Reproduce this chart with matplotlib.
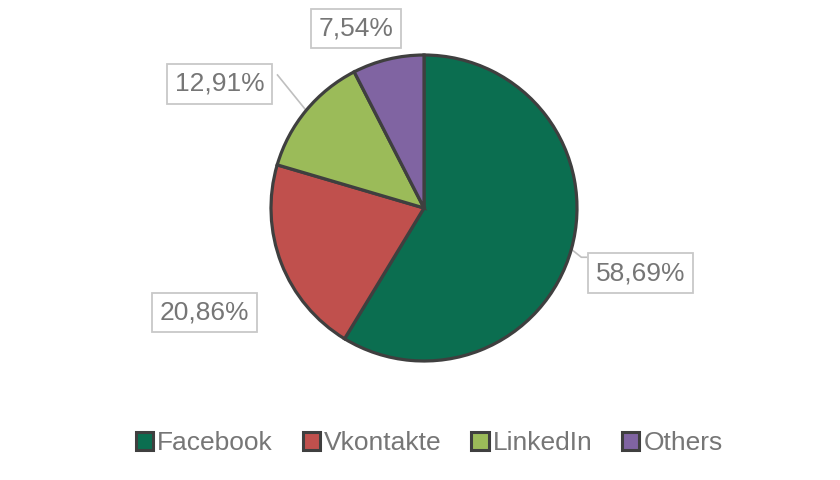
import numpy as np
import matplotlib
matplotlib.use("Agg")
import matplotlib.pyplot as plt
from matplotlib.patches import Patch

# shares by network
names = ['Facebook', 'Vkontakte', 'LinkedIn', 'Others']
shares = [58.69, 20.86, 12.91, 7.54]
labels = ['58,69%', '20,86%', '12,91%', '7,54%']
colors = ['#0B6E50', '#C0504D', '#9BBB59', '#8064A2']

plt.rcParams['font.family'] = ['Liberation Sans', 'DejaVu Sans']
txt_col = '#767676'
edge_col = '#3F3F3F'

fig = plt.figure(figsize=(8.4, 4.8), dpi=100)
ax = fig.add_axes([0, 0, 1, 1])

cx, cy, r = 424, 272, 153
wedges, _ = ax.pie(shares, colors=colors, startangle=90, counterclock=False,
                   center=(cx, cy), radius=r, frame=True,
                   wedgeprops=dict(edgecolor=edge_col, linewidth=2.3))
ax.set_xlim(0, 840)
ax.set_ylim(0, 480)
ax.axis('off')

# label box positions (pixel layout) and whether a leader line is drawn
box_pos = [(640.5, 207), (204.5, 167.5), (219.5, 396), (356, 451.5)]
leader = [True, False, True, False]

for w, lab, (bx, by), ld in zip(wedges, labels, box_pos, leader):
    ax.text(bx, by, lab, ha='center', va='center', fontsize=19, color=txt_col,
            bbox=dict(boxstyle='square,pad=0.3', facecolor='white',
                      edgecolor='#C8C8C8', linewidth=1.3))
    if ld:
        ang = np.deg2rad((w.theta1 + w.theta2) / 2)
        ex, ey = cx + r * np.cos(ang), cy + r * np.sin(ang)
        if bx > cx:
            pts_x = [ex, ex + 10, bx - 54]
            pts_y = [ey, ey - 8, ey - 8]
        else:
            pts_x = [ex, bx + 58]
            pts_y = [ey, by + 9]
        ax.plot(pts_x, pts_y, color='#BFBFBF', linewidth=1.2, zorder=0.5)

handles = [Patch(facecolor=c, edgecolor=edge_col, linewidth=2.2) for c in colors]
leg = fig.legend(handles, names, loc='center', bbox_to_anchor=(0.511, 0.077),
                 ncol=4, frameon=False, fontsize=19, handlelength=0.66,
                 handleheight=0.66, handletextpad=0.15, columnspacing=1.12)
for t in leg.get_texts():
    t.set_color(txt_col)

fig.savefig('out.png', dpi=100, facecolor='white')
